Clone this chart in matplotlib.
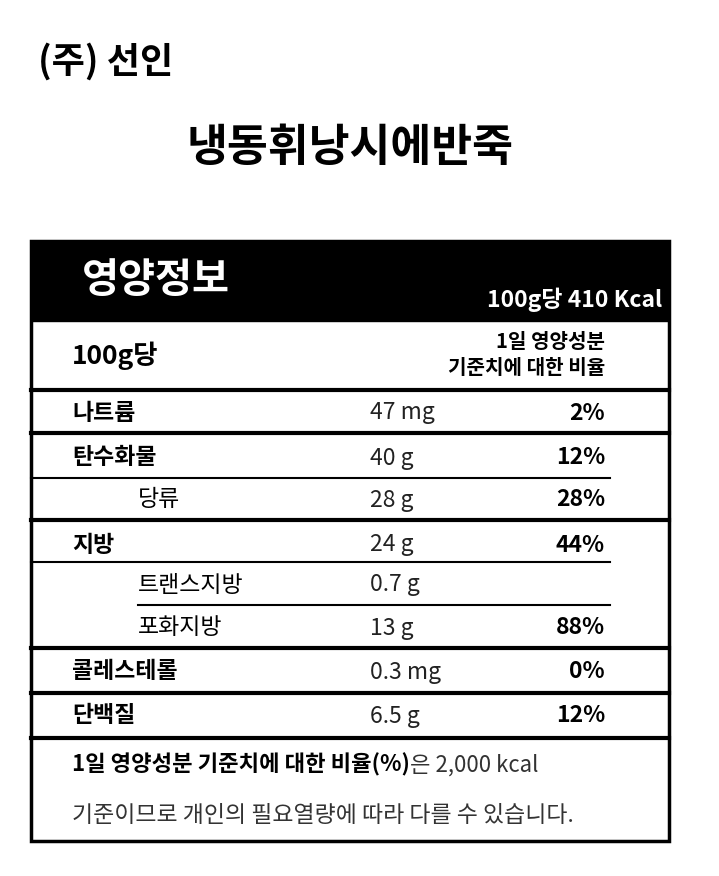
import matplotlib
matplotlib.use("Agg")
import matplotlib.pyplot as plt
from matplotlib.patches import Rectangle

plt.rcParams['font.family'] = ['Noto Sans CJK KR', 'DejaVu Sans']

company = "(주) 선인"
product = "냉동휘낭시에반죽"
header_title = "영양정보"
header_kcal = "100g당 410 Kcal"
per_label = "100g당"
dv_label = ["1일 영양성분", "기준치에 대한 비율"]
names = ["나트륨", "탄수화물", "당류", "지방", "트랜스지방", "포화지방", "콜레스테롤", "단백질"]
amounts = ["47 mg", "40 g", "28 g", "24 g", "0.7 g", "13 g", "0.3 mg", "6.5 g"]
percents = ["2%", "12%", "28%", "44%", "", "88%", "0%", "12%"]
indent = [False, False, True, False, True, True, False, False]
row_y = [413, 458, 500, 545, 585, 628, 672, 716]
after = ["thick", "thin", "thick", "thin", "thin_indent", "thick", "thick", "thick"]
line_y = [433, 478, 520, 562, 605, 648, 693, 738]
foot_bold = "1일 영양성분 기준치에 대한 비율(%)"
foot_norm = "은 2,000 kcal"
foot2 = "기준이므로 개인의 필요열량에 따라 다를 수 있습니다."

fig = plt.figure(figsize=(7.19, 8.76), dpi=100)
ax = fig.add_axes([0, 0, 1, 1])
ax.set_xlim(0, 719)
ax.set_ylim(876, 0)
ax.axis('off')

ax.text(38, 62, company, fontsize=26, fontweight='bold', va='center')
ax.text(350, 148, product, fontsize=32, fontweight='bold', va='center', ha='center')

L, R, T, B = 31, 669, 241, 841
ax.add_patch(Rectangle((L, T), R - L, 80, color='black'))
ax.add_patch(Rectangle((L, T), R - L, B - T, fill=False, lw=2.5, ec='black'))
ax.text(82, 280, header_title, fontsize=29, fontweight='bold', color='white', va='center')
ax.text(662, 300, header_kcal, fontsize=16.5, fontweight='bold', color='white', va='center', ha='right')

ax.text(72, 356, per_label, fontsize=19, fontweight='bold', va='center')
ax.text(605, 342, dv_label[0], fontsize=14.5, fontweight='bold', va='center', ha='right')
ax.text(605, 368, dv_label[1], fontsize=14.5, fontweight='bold', va='center', ha='right')
ax.plot([L, R], [390, 390], color='black', lw=3)

for n, a, p, ind, y, kind, ly in zip(names, amounts, percents, indent, row_y, after, line_y):
    if ind:
        ax.text(138, y, n, fontsize=16.5, va='center')
    else:
        ax.text(72, y, n, fontsize=16.5, fontweight='bold', va='center')
    ax.text(370, y, a, fontsize=16.5, va='center', color='#222222')
    if p:
        ax.text(605, y, p, fontsize=16.5, fontweight='bold', va='center', ha='right')
    if kind == "thick":
        ax.plot([L, R], [ly, ly], color='black', lw=3)
    elif kind == "thin":
        ax.plot([L, 610], [ly, ly], color='black', lw=1.5)
    else:
        ax.plot([138, 610], [ly, ly], color='black', lw=1.5)

t = ax.text(72, 765, foot_bold, fontsize=16, fontweight='bold', va='center')
fig.canvas.draw()
bb = t.get_window_extent(renderer=fig.canvas.get_renderer())
x_end = ax.transData.inverted().transform((bb.x1, bb.y0))[0]
ax.text(x_end, 765, foot_norm, fontsize=16, va='center', color='#333333')
ax.text(72, 815, foot2, fontsize=16.5, va='center', color='#333333')

fig.savefig("out.png", dpi=100)
